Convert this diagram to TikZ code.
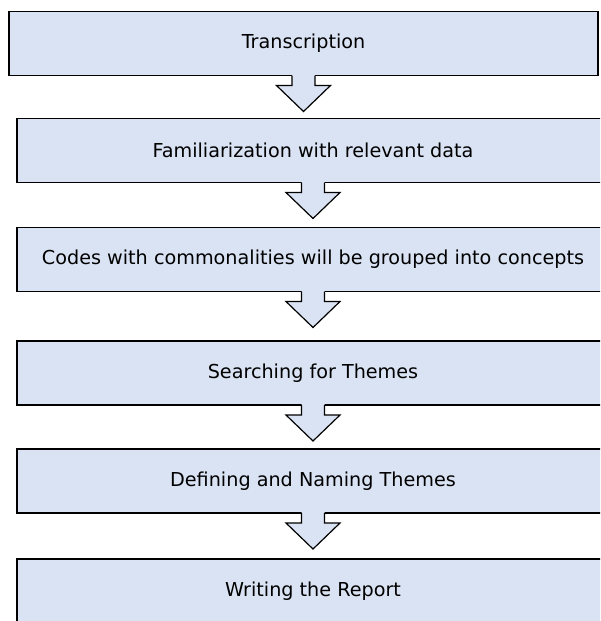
\documentclass[tikz,border=0pt]{standalone}
\usepackage{fontspec}
\setmainfont{DejaVu Sans}
\usepackage{tikz}
\usetikzlibrary{calc}
\definecolor{stagefill}{HTML}{DAE3F3}

\begin{document}
\begin{tikzpicture}[x=1pt,y=1pt,
  stage/.style={draw=black,line width=1.4pt,fill=stagefill,outer sep=0pt,
    inner sep=0pt,minimum height=64pt,minimum width=592pt,
    font=\fontsize{19.2}{22}\selectfont},
  flow/.style={draw=black,line width=1.2pt,line join=miter}]
  \useasboundingbox (0,0) rectangle (600,-621);
  \clip (0,0) rectangle (600,-621);
  \node[stage,minimum width=589pt] (s1) at (303.5,-43.5) {Transcription};
  \node[stage] (s2) at (313,-150.5) {Familiarization with relevant data};
  \node[stage] (s3) at (313,-259.5) {Codes with commonalities will be grouped into concepts};
  \node[stage] (s4) at (313,-373)   {Searching for Themes};
  \node[stage] (s5) at (313,-481)   {Defining and Naming Themes};
  \node[stage] (s6) at (313,-591)   {Writing the Report};
  % block arrows hanging under each stage
  \foreach \a/\b in {s1/s2,s2/s3,s3/s4,s4/s5,s5/s6} {
    \coordinate (tip) at ($(\a.south)+(0,-36)$);
    \begin{scope}[shift={(\a.south)}]
      \fill[stagefill] (-11.5,1.5) -- (-11.5,-10) -- (-27,-10) -- (tip)
           -- (27,-10) -- (11.5,-10) -- (11.5,1.5) -- cycle;
      \draw[flow] (-11.5,0) -- (-11.5,-10) -- (-27,-10) -- (tip)
           -- (27,-10) -- (11.5,-10) -- (11.5,0);
    \end{scope}
  }
\end{tikzpicture}
\end{document}
